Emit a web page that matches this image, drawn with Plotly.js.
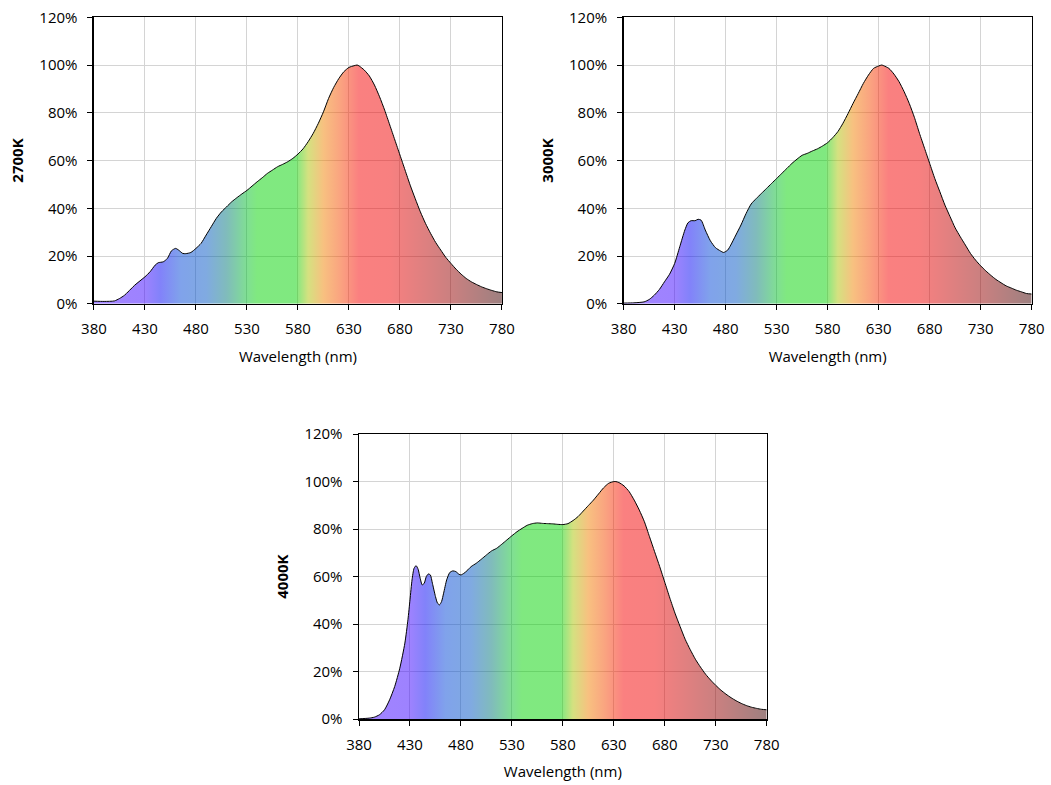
<!DOCTYPE html>
<html>
<head>
<meta charset="utf-8">
<script src="https://cdn.plot.ly/plotly-3.0.1.min.js"></script>
<style>html,body{margin:0;padding:0;background:#fff;}#chart{width:1051px;height:785px;}</style>
</head>
<body>
<div id="chart"></div>
<script>
// ---- Data ----
const wl2700 = [380,390,400,405,410,420,430,435,440,443,448,452,456,460,463,467,470,475,480,485,490,495,500,505,510,515,520,525,530,535,540,545,550,555,560,565,570,575,580,585,590,595,600,605,610,615,620,625,630,635,638,640,645,650,655,660,665,670,675,680,685,690,695,700,705,710,715,720,725,730,735,740,745,750,755,760,765,770,775,780];
const sp2700 = [1.1,1.0,1.2,2.2,3.6,7.8,11.3,13.4,16.2,17.2,17.6,19.0,22.2,23.2,22.5,21.1,21.0,21.5,23.2,25.3,28.8,32.3,35.8,38.5,40.6,42.7,44.4,46.0,47.5,49.3,51.1,52.8,54.6,56.0,57.4,58.4,59.5,60.9,62.7,64.9,67.9,71.4,75.6,80.4,86.0,90.6,94.3,97.2,99.0,99.7,100,99.6,97.9,95.4,91.6,86.7,81.1,74.9,68.6,62.3,56.0,49.7,44.0,38.5,33.7,29.5,25.7,22.5,19.4,16.9,14.5,12.4,10.6,9.2,8.1,7.1,6.3,5.6,5.0,4.7];

const wl3000 = [380,390,400,405,410,415,420,425,430,435,440,443,446,450,453,456,460,465,470,475,478,482,485,490,495,500,505,510,515,520,525,530,535,540,545,550,555,560,565,570,575,580,585,590,595,600,605,610,615,620,625,630,633,635,640,645,650,655,660,665,670,675,680,685,690,695,700,705,710,715,720,725,730,735,740,745,750,755,760,765,770,775,780];
const sp3000 = [0.3,0.4,0.8,1.8,3.6,6.0,9.2,12.4,16.9,23.9,30.9,33.9,34.8,34.8,35.4,35.0,30.9,26.4,23.5,22.1,21.5,22.5,24.6,28.8,33.0,37.8,41.8,44.1,46.2,48.3,50.4,52.5,54.6,56.7,58.8,60.6,62.2,63.0,64.0,64.9,66.1,67.5,69.6,72.1,75.6,79.7,84.0,88.1,92.3,95.8,98.6,99.6,100,99.7,98.6,96.2,93.0,88.8,83.9,78.1,71.4,65.1,58.8,52.5,46.9,41.3,36.5,31.8,28.1,24.6,21.1,18.3,15.9,13.8,11.9,10.2,8.8,7.5,6.6,5.7,5.0,4.3,4.1];

const wl4000 = [380,390,395,400,405,410,415,420,425,428,430,432,434,436,438,440,442,444,446,448,450,452,455,457,459,461,463,466,469,472,475,478,480,483,486,490,495,500,505,510,515,520,525,530,535,540,545,550,555,560,565,570,575,580,585,590,595,600,605,610,615,620,625,630,632,635,640,645,650,655,660,665,670,675,680,685,690,695,700,705,710,715,720,725,730,735,740,745,750,755,760,765,770,775,780];
const sp4000 = [0.1,0.4,0.8,1.8,3.9,8.1,13.7,21.4,32.0,41.8,50.2,58.6,63.5,64.6,63.1,59.3,56.5,57.2,60.0,61.1,60.7,57.2,51.6,48.8,48.1,49.5,53.0,58.6,61.7,62.4,62.1,61.0,60.7,61.4,62.5,64.2,65.6,67.3,69.1,70.8,71.9,73.6,75.4,77.2,78.9,80.3,81.6,82.3,82.6,82.4,82.3,82.2,82.0,81.9,82.3,83.6,85.3,87.6,89.9,92.2,94.8,97.4,99.3,100,100,99.6,98.2,95.8,92.2,88.0,83.1,76.8,70.5,64.2,57.6,50.9,44.6,39.0,33.6,29.2,25.2,21.9,18.9,16.4,14.2,12.2,10.5,9.0,7.7,6.6,5.7,5.0,4.5,4.1,3.9];

const panelNames = ["2700K", "3000K", "4000K"];
const xTickVals = [380,430,480,530,580,630,680,730,780];
const yTickVals = [0,20,40,60,80,100,120];

// ---- Spectrum gradient (wavelength -> colour) ----
const specStops = [
  [380,'rgba(70,10,255,0.5)'],
  [430,'rgba(60,5,255,0.5)'],
  [445,'rgba(5,5,245,0.5)'],
  [465,'rgba(0,70,215,0.5)'],
  [490,'rgba(0,85,195,0.5)'],
  [510,'rgba(0,120,120,0.5)'],
  [530,'rgba(0,190,40,0.5)'],
  [540,'rgba(0,210,0,0.5)'],
  [578,'rgba(0,210,0,0.5)'],
  [590,'rgba(170,195,0,0.5)'],
  [605,'rgba(240,130,0,0.5)'],
  [622,'rgba(245,70,0,0.5)'],
  [640,'rgba(245,0,0,0.5)'],
  [670,'rgba(240,0,0,0.5)'],
  [730,'rgba(150,0,0,0.5)'],
  [780,'rgba(60,0,0,0.5)']
];
const specScale = specStops.map(s => [(s[0]-380)/400, s[1]]);

const font = {family: 'Open Sans, sans-serif', size: 15, color: '#000'};

function trace(x, y, i) {
  const ax = i === 0 ? '' : String(i+1);
  return {
    x: x, y: y.map(v => v/100),
    xaxis: 'x'+ax, yaxis: 'y'+ax,
    type: 'scatter', mode: 'lines',
    line: {color: '#000', width: 1, shape: 'spline', smoothing: 0.6},
    fill: 'tozeroy',
    fillgradient: {type: 'horizontal', colorscale: specScale, start: 380, stop: 780},
    hoverinfo: 'x+y', showlegend: false
  };
}

const data = [trace(wl2700, sp2700, 0), trace(wl3000, sp3000, 1), trace(wl4000, sp4000, 2)];

function xax(domain, anchor) {
  return {
    domain: domain, anchor: anchor, range: [380,780],
    tickvals: xTickVals, ticktext: xTickVals.map(String),
    showgrid: true, gridcolor: '#d4d4d4', gridwidth: 1,
    showline: true, linecolor: '#000', linewidth: 1.5, mirror: true,
    ticks: 'outside', ticklen: 5, tickcolor: '#000', ticklabelstandoff: 6,
    zeroline: false, tickfont: font,
    title: {text: 'Wavelength (nm)', font: font, standoff: 14}
  };
}
function yax(domain, anchor, name) {
  return {
    domain: domain, anchor: anchor, range: [0,1.2],
    tickvals: yTickVals.map(v => v/100), ticktext: yTickVals.map(v => v+'%'),
    showgrid: true, gridcolor: '#d4d4d4', gridwidth: 1,
    showline: true, linecolor: '#000', linewidth: 1.5, mirror: true,
    ticks: 'outside', ticklen: 5, tickcolor: '#000', ticklabelstandoff: 7,
    zeroline: false, tickfont: font,
    title: {text: '<b>'+name+'</b>', font: {family: 'Open Sans, sans-serif', size: 15, color: '#000'}, standoff: 12}
  };
}

const topY = [0.613, 0.978];
const botY = [0.084, 0.447];

const layout = {
  width: 1051, height: 785,
  margin: {l: 0, r: 0, t: 0, b: 0},
  paper_bgcolor: '#fff', plot_bgcolor: '#fff',
  font: font,
  xaxis:  xax([0.0894, 0.4776], 'y'),
  yaxis:  yax(topY, 'x', panelNames[0]),
  xaxis2: xax([0.5934, 0.9816], 'y2'),
  yaxis2: yax(topY, 'x2', panelNames[1]),
  xaxis3: xax([0.3416, 0.7295], 'y3'),
  yaxis3: yax(botY, 'x3', panelNames[2])
};

Plotly.newPlot('chart', data, layout, {staticPlot: true, displayModeBar: false});
</script>
</body>
</html>
